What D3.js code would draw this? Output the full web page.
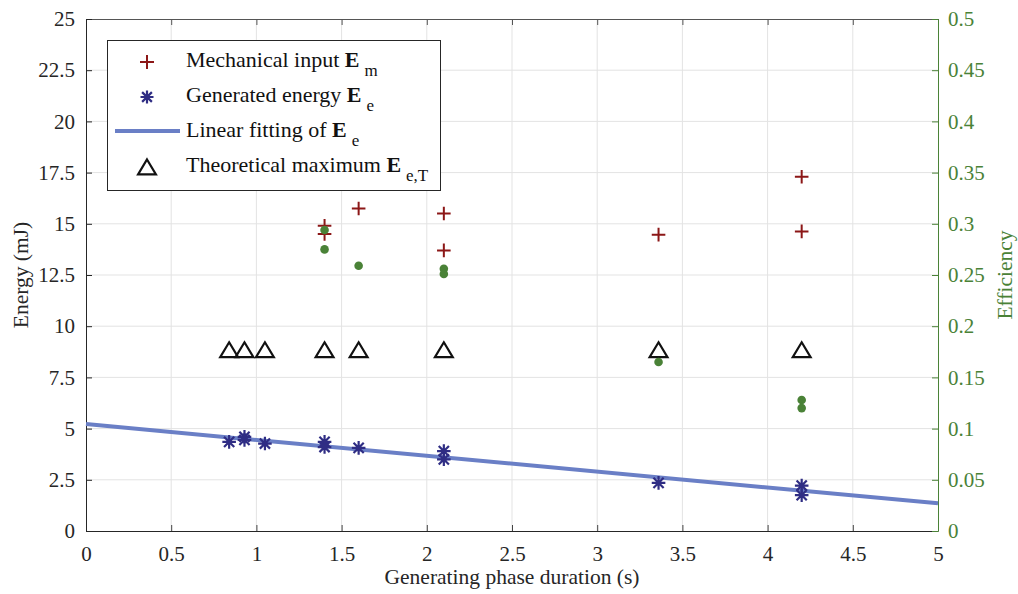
<!DOCTYPE html>
<html><head><meta charset="utf-8">
<script src="https://cdn.jsdelivr.net/npm/d3@7"></script>
<style>body{margin:0;background:#fff}svg{display:block}</style>
</head><body><svg id="c" width="1018" height="594"></svg>
<script>
const xTicks=[0,0.5,1,1.5,2,2.5,3,3.5,4,4.5,5];
const yTicks=[0,2.5,5,7.5,10,12.5,15,17.5,20,22.5,25];
const y2Ticks=[0,0.05,0.1,0.15,0.2,0.25,0.3,0.35,0.4,0.45,0.5];
const mechX=[1.4,1.4,1.6,2.1,2.1,3.36,4.2,4.2];
const mechY=[14.9,14.5,15.75,15.5,13.7,14.47,17.3,14.63];
const genX=[0.84,0.93,0.93,1.05,1.4,1.4,1.6,2.1,2.1,3.36,4.2,4.2];
const genY=[4.35,4.6,4.45,4.27,4.35,4.1,4.06,3.9,3.5,2.35,2.22,1.75];
const fitX=[0,5];
const fitY=[5.22,1.35];
const theoX=[0.84,0.93,1.05,1.4,1.6,2.1,3.36,4.2];
const theoY=[8.8,8.8,8.8,8.8,8.8,8.8,8.8,8.8];
const effX=[1.4,1.4,1.6,2.1,2.1,3.36,4.2,4.2];
const effY=[0.294,0.275,0.259,0.256,0.251,0.165,0.128,0.12];

const svg=d3.select("#c");
const L=86,R=938,T=19,B=531;
const x=d3.scaleLinear().domain([0,5]).range([L,R]);
const y=d3.scaleLinear().domain([0,25]).range([B,T]);
const y2=d3.scaleLinear().domain([0,0.5]).range([B,T]);
const green="#4a8237", red="#8c1717", navy="#2f2d84", lineC="#6a7fc6";
const FF="Liberation Serif";

// grid
svg.append("g").selectAll("line").data(xTicks.slice(1,-1)).join("line")
 .attr("x1",d=>x(d)).attr("x2",d=>x(d)).attr("y1",T).attr("y2",B).attr("stroke","#e3e3e3");
svg.append("g").selectAll("line").data(yTicks.slice(1,-1)).join("line")
 .attr("y1",d=>y(d)).attr("y2",d=>y(d)).attr("x1",L).attr("x2",R).attr("stroke","#e3e3e3");

// axes
const ax=svg.append("g").attr("transform",`translate(0,${B})`).call(d3.axisBottom(x).tickValues(xTicks).tickSizeInner(-6).tickSizeOuter(0).tickPadding(15).tickFormat(d3.format("")));
const axT=svg.append("g").attr("transform",`translate(0,${T})`).call(d3.axisTop(x).tickValues(xTicks).tickSizeInner(-6).tickSizeOuter(0).tickFormat(""));
const ay=svg.append("g").attr("transform",`translate(${L},0)`).call(d3.axisLeft(y).tickValues(yTicks).tickSizeInner(-6).tickSizeOuter(0).tickPadding(11).tickFormat(d3.format("")));
const ay2=svg.append("g").attr("transform",`translate(${R},0)`).call(d3.axisRight(y2).tickValues(y2Ticks).tickSizeInner(-6).tickSizeOuter(0).tickPadding(10).tickFormat(d3.format("")));
[ax,axT,ay,ay2].forEach(g=>g.attr("font-family",FF).attr("font-size",21));
[ax,ay].forEach(g=>{g.selectAll("path,line").attr("stroke","#262626");g.selectAll("text").attr("fill","#262626");});
axT.selectAll("path,line").attr("stroke","#555");
ay2.selectAll("path,line").attr("stroke",green);ay2.selectAll("text").attr("fill",green);
ax.selectAll(".tick line").attr("stroke","#444");

svg.append("text").attr("x",(L+R)/2).attr("y",584).attr("text-anchor","middle").attr("font-family",FF).attr("font-size",21.5).attr("fill","#262626").text("Generating phase duration (s)");
svg.append("text").attr("transform",`translate(28,${(T+B)/2}) rotate(-90)`).attr("text-anchor","middle").attr("font-family",FF).attr("font-size",21.5).attr("fill","#262626").text("Energy (mJ)");
svg.append("text").attr("transform",`translate(1012,${(T+B)/2}) rotate(-90)`).attr("text-anchor","middle").attr("font-family",FF).attr("font-size",21.5).attr("fill",green).text("Efficiency");

// fit line
svg.append("path").datum(fitX.map((d,i)=>[d,fitY[i]])).attr("d",d3.line().x(d=>x(d[0])).y(d=>y(d[1])))
 .attr("stroke",lineC).attr("stroke-width",4).attr("fill","none");

// symbols
function plus(g,cx,cy,s){g.append("path").attr("d",`M${cx-s},${cy}H${cx+s}M${cx},${cy-s}V${cy+s}`).attr("stroke",red).attr("stroke-width",2).attr("fill","none");}
function star(g,cx,cy,s){let d=`M${cx-s},${cy}H${cx+s}M${cx},${cy-s}V${cy+s}`;const k=s*0.75;d+=`M${cx-k},${cy-k}L${cx+k},${cy+k}M${cx-k},${cy+k}L${cx+k},${cy-k}`;g.append("path").attr("d",d).attr("stroke",navy).attr("stroke-width",2.2).attr("fill","none");}
function tri(g,cx,cy,s){g.append("path").attr("d",`M${cx},${cy-s}L${cx+s*1.05},${cy+s*0.75}L${cx-s*1.05},${cy+s*0.75}Z`).attr("stroke","#111").attr("stroke-width",2.2).attr("fill","none");}

const gt=svg.append("g");theoX.forEach((d,i)=>tri(gt,x(d),y(theoY[i]),8.5));
const gg=svg.append("g");genX.forEach((d,i)=>star(gg,x(d),y(genY[i]),6.8));
const gm=svg.append("g");mechX.forEach((d,i)=>plus(gm,x(d),y(mechY[i]),6.8));
svg.append("g").selectAll("circle").data(effX.map((d,i)=>[d,effY[i]])).join("circle")
 .attr("cx",d=>x(d[0])).attr("cy",d=>y2(d[1])).attr("r",4.3).attr("fill",green);

// legend
const lg=svg.append("g").attr("font-family",FF);
lg.append("rect").attr("x",107.5).attr("y",40.5).attr("width",333).attr("height",150).attr("fill","#fff").attr("stroke","#262626").attr("stroke-width",1);
const rows=[{t:"Mechanical input ",s:"m",y:67},{t:"Generated energy ",s:"e",y:102},{t:"Linear fitting of ",s:"e",y:137},{t:"Theoretical maximum ",s:"e,T",y:172}];
rows.forEach(r=>{const t=lg.append("text").attr("x",186).attr("y",r.y).attr("font-size",22).attr("fill","#111");
 t.append("tspan").text(r.t);t.append("tspan").attr("font-weight","bold").text("E");
 t.append("tspan").attr("dx",5).attr("dy",9).attr("font-size",17).text(r.s);});
plus(lg,147,62,7);star(lg,147,97,6.5);
lg.append("line").attr("x1",115).attr("x2",180).attr("y1",131).attr("y2",131).attr("stroke",lineC).attr("stroke-width",4);
tri(lg,147,168,8.5);
</script></body></html>
